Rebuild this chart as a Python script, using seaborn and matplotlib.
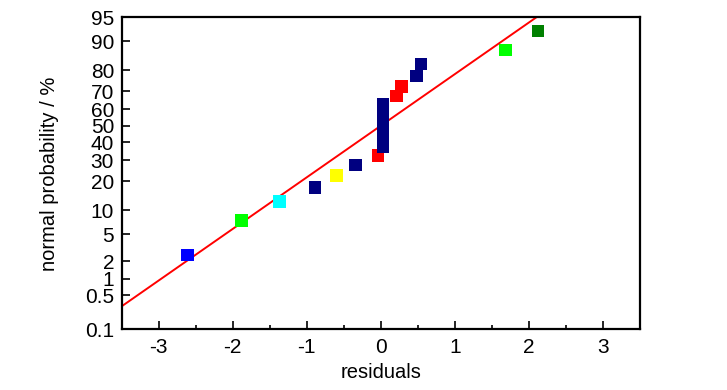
import numpy as np
import pandas as pd
import matplotlib
matplotlib.use("Agg")
import matplotlib.pyplot as plt
import seaborn as sns
from statistics import NormalDist

# ---- data ----
residuals = [-2.61, -1.88, -1.37, -0.89, -0.60, -0.34, -0.04,
             0.03, 0.03, 0.03, 0.03, 0.03, 0.03,
             0.21, 0.28, 0.48, 0.54, 1.68, 2.12]
probability = [2.5, 7.5, 12.5, 17.5, 22.5, 27.5, 32.5,
               37.5, 42.5, 47.5, 52.5, 57.5, 62.5,
               67.5, 72.5, 77.5, 82.5, 87.5, 92.5]
colors = ["#0000FF", "#00FF00", "#00FFFF", "#000080", "#FFFF00", "#000080", "#FF0000",
          "#000080", "#000080", "#000080", "#000080", "#000080", "#000080",
          "#FF0000", "#FF0000", "#000080", "#000080", "#00FF00", "#008000"]

fit_mean = 0.0
fit_sd = 1.277

x_ticks = [-3, -2, -1, 0, 1, 2, 3]
y_ticks = [0.1, 0.5, 1, 2, 5, 10, 20, 30, 40, 50, 60, 70, 80, 90, 95]
y_ticklabels = ["0.1", "0.5", "1", "2", "5", "10", "20", "30", "40", "50",
                "60", "70", "80", "90", "95"]

# ---- probit scale ----
_nd = NormalDist()
_ppf = np.vectorize(_nd.inv_cdf, otypes=[float])
_cdf = np.vectorize(_nd.cdf, otypes=[float])
def _fwd(p):
    p = np.clip(np.asarray(p, dtype=float) / 100.0, 1e-9, 1 - 1e-9)
    return _ppf(p)
def _inv(z):
    z = np.asarray(z, dtype=float)
    return _cdf(z) * 100.0

sns.set_theme(style="white")
plt.rcParams['font.family'] = ['Liberation Sans', 'DejaVu Sans']
plt.rcParams['text.color'] = 'black'
plt.rcParams['axes.labelcolor'] = 'black'

fig = plt.figure(figsize=(7.27, 3.90), dpi=100)
ax = fig.add_axes([0.1674, 0.1556, 0.8803 - 0.1674, 0.9556 - 0.1556])
ax.set_yscale('function', functions=(_fwd, _inv))

df = pd.DataFrame({"residual": residuals, "prob": probability, "color": colors})

# fitted normal line
fit = NormalDist(fit_mean, fit_sd)
line_x = [-3.5, 3.5]
line_p = [fit.cdf(v) * 100.0 for v in line_x]
sns.lineplot(x=line_x, y=line_p, ax=ax, color="#FF0000", linewidth=1.4, zorder=2)

sns.scatterplot(data=df, x="residual", y="prob", hue="color",
                palette={c: c for c in set(colors)}, marker="s", s=82,
                linewidth=0, legend=False, ax=ax, zorder=3)

ax.set_xlim(-3.5, 3.5)
ax.set_ylim(0.1, 95)
ax.set_xticks(x_ticks)
ax.set_xticklabels([str(v) for v in x_ticks])
ax.set_xticks([-3.5, -2.5, -1.5, -0.5, 0.5, 1.5, 2.5], minor=True)
ax.set_yticks(y_ticks)
ax.set_yticklabels(y_ticklabels)
ax.set_yticks([], minor=True)

for s in ax.spines.values():
    s.set_visible(True)
    s.set_color("black")
    s.set_linewidth(1.6)

ax.tick_params(axis='both', which='both', direction='in', colors='black',
               labelsize=15, width=1.2)
ax.tick_params(axis='x', which='major', length=6, pad=6.5, bottom=True, top=False)
ax.tick_params(axis='x', which='minor', length=3, bottom=True, top=False)
ax.tick_params(axis='y', which='major', length=6, pad=5.5, left=True, right=False)
ax.grid(False)

ax.set_xlabel("residuals", fontsize=14.5, labelpad=4)
ax.set_ylabel("normal probability / %", fontsize=14.5, labelpad=19)

fig.savefig("out.png", dpi=100)
